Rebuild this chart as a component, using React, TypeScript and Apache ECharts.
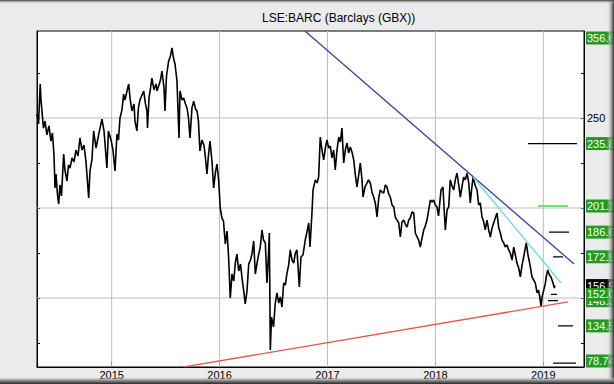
import React, { useEffect, useRef } from "react";
import * as echarts from "echarts";

const X_MIN = 2014.308;
const X_MAX = 2019.377;
const Y_MIN = 111.67;
const Y_MAX = 298.33;

const YEAR_TICKS = [2015, 2016, 2017, 2018, 2019];
const PRICE_TICKS = [125, 150, 175, 200, 225, 250, 275];
const PRICE_GRID = [150, 200, 250];
const RIGHT_AXIS_LABELS = [250];

const TITLE = "LSE:BARC (Barclays (GBX))";

// [decimal year, price in GBX]
const PRICES_2014: [number, number][] = [
  [2014.308, 252.2], [2014.322, 246.7], [2014.338, 268.9], [2014.345, 260.0], [2014.354, 253.9],
  [2014.368, 244.4], [2014.382, 248.3], [2014.4, 240.6], [2014.419, 245.6], [2014.437, 237.2],
  [2014.451, 241.7], [2014.465, 230.0], [2014.475, 211.1], [2014.484, 218.9], [2014.498, 207.2],
  [2014.509, 202.2], [2014.521, 212.8], [2014.535, 206.7], [2014.555, 230.0], [2014.567, 221.1],
  [2014.586, 215.0], [2014.6, 223.9], [2014.614, 222.2], [2014.632, 227.8], [2014.651, 225.6],
  [2014.669, 232.2], [2014.688, 228.9], [2014.706, 238.9], [2014.725, 232.2], [2014.743, 235.0],
  [2014.762, 225.6], [2014.787, 205.6], [2014.799, 220.6], [2014.817, 226.7], [2014.833, 242.8],
  [2014.855, 233.3], [2014.873, 238.9], [2014.892, 244.4], [2014.91, 249.4], [2014.929, 242.8],
  [2014.956, 222.2], [2014.97, 242.8], [2014.994, 237.8],
];

const PRICES_2015: [number, number][] = [
  [2015.012, 232.2], [2015.031, 220.6], [2015.049, 241.1], [2015.063, 237.8], [2015.077, 250.0],
  [2015.095, 254.4], [2015.111, 263.3], [2015.123, 260.0], [2015.142, 265.0], [2015.158, 268.9],
  [2015.17, 261.1], [2015.188, 253.9], [2015.207, 257.8], [2015.216, 248.3], [2015.234, 242.8],
  [2015.248, 255.6], [2015.262, 260.0], [2015.281, 262.8], [2015.297, 265.0], [2015.313, 257.8],
  [2015.327, 253.9], [2015.332, 244.4], [2015.346, 261.1], [2015.364, 268.3], [2015.373, 272.2],
  [2015.392, 265.6], [2015.411, 268.9], [2015.42, 265.0], [2015.438, 268.3], [2015.452, 271.1],
  [2015.466, 276.1], [2015.485, 266.7], [2015.494, 253.9], [2015.508, 273.3], [2015.528, 281.7],
  [2015.545, 284.4], [2015.559, 288.9], [2015.573, 283.3], [2015.587, 280.0], [2015.605, 270.6],
  [2015.624, 238.9], [2015.633, 265.0], [2015.652, 260.0], [2015.667, 261.1], [2015.684, 257.8],
  [2015.698, 255.6], [2015.712, 250.0], [2015.726, 238.9], [2015.744, 255.6], [2015.76, 259.4],
  [2015.777, 255.0], [2015.791, 253.9], [2015.804, 248.3], [2015.818, 231.7], [2015.837, 237.8],
  [2015.855, 235.0], [2015.869, 227.8], [2015.883, 218.9], [2015.897, 229.4], [2015.911, 237.2],
  [2015.93, 225.6], [2015.945, 211.1], [2015.962, 220.0], [2015.976, 224.4], [2015.992, 215.0],
];

const PRICES_2016: [number, number][] = [
  [2016.006, 200.0], [2016.022, 194.4], [2016.036, 192.8], [2016.053, 180.0], [2016.069, 187.2],
  [2016.084, 172.2], [2016.099, 150.0], [2016.115, 163.3], [2016.131, 159.4], [2016.147, 170.0],
  [2016.161, 174.4], [2016.177, 165.0], [2016.194, 168.9], [2016.208, 161.1], [2016.223, 154.4],
  [2016.238, 146.7], [2016.254, 153.9], [2016.27, 168.9], [2016.286, 171.1], [2016.3, 174.4],
  [2016.316, 181.7], [2016.331, 163.3], [2016.347, 169.4], [2016.361, 173.9], [2016.377, 178.3],
  [2016.393, 187.8], [2016.407, 182.2], [2016.424, 180.6], [2016.439, 158.3], [2016.453, 173.9],
  [2016.461, 186.1], [2016.47, 121.1], [2016.481, 139.4], [2016.5, 133.9], [2016.516, 147.2],
  [2016.532, 152.8], [2016.548, 147.2], [2016.563, 150.6], [2016.578, 145.0], [2016.594, 158.3],
  [2016.609, 157.2], [2016.625, 163.9], [2016.64, 168.3], [2016.655, 176.7], [2016.671, 171.1],
  [2016.687, 169.4], [2016.702, 175.0], [2016.717, 176.7], [2016.739, 156.1], [2016.754, 172.8],
  [2016.773, 173.9], [2016.794, 182.2], [2016.81, 186.7], [2016.826, 191.7], [2016.838, 178.3],
  [2016.856, 197.2], [2016.866, 210.0], [2016.887, 215.6], [2016.903, 213.9], [2016.918, 217.2],
  [2016.933, 239.4], [2016.949, 232.2], [2016.965, 226.7], [2016.98, 233.3], [2016.995, 237.8],
];

const PRICES_2017: [number, number][] = [
  [2017.011, 233.3], [2017.026, 234.4], [2017.042, 227.8], [2017.057, 232.2], [2017.072, 221.1],
  [2017.088, 232.2], [2017.104, 239.4], [2017.119, 236.7], [2017.134, 244.4], [2017.15, 225.0],
  [2017.165, 232.2], [2017.181, 236.1], [2017.196, 230.6], [2017.211, 233.9], [2017.227, 231.1],
  [2017.243, 226.7], [2017.258, 218.3], [2017.273, 211.7], [2017.289, 218.3], [2017.304, 225.0],
  [2017.32, 215.6], [2017.329, 206.1], [2017.348, 211.7], [2017.366, 213.9], [2017.38, 215.6],
  [2017.397, 213.9], [2017.412, 208.9], [2017.428, 206.1], [2017.443, 202.8], [2017.459, 195.0],
  [2017.475, 205.6], [2017.489, 210.0], [2017.505, 208.9], [2017.521, 208.3], [2017.536, 212.8],
  [2017.551, 211.7], [2017.567, 207.8], [2017.582, 206.1], [2017.598, 201.7], [2017.614, 200.6],
  [2017.628, 195.0], [2017.644, 193.3], [2017.66, 191.7], [2017.675, 183.9], [2017.69, 192.2],
  [2017.706, 193.3], [2017.721, 191.1], [2017.737, 189.4], [2017.753, 193.3], [2017.767, 194.4],
  [2017.783, 197.8], [2017.799, 197.2], [2017.814, 186.1], [2017.83, 183.9], [2017.845, 182.2],
  [2017.86, 178.3], [2017.876, 183.3], [2017.892, 187.8], [2017.906, 190.0], [2017.922, 193.3],
  [2017.938, 198.9], [2017.953, 204.4], [2017.969, 203.3], [2017.984, 204.4], [2017.999, 201.7],
];

const PRICES_2018: [number, number][] = [
  [2018.015, 200.6], [2018.029, 195.6], [2018.043, 204.4], [2018.052, 210.0], [2018.07, 211.7],
  [2018.084, 196.1], [2018.092, 187.8], [2018.108, 198.9], [2018.123, 200.6], [2018.138, 215.6],
  [2018.154, 212.2], [2018.17, 210.0], [2018.184, 215.6], [2018.2, 219.4], [2018.216, 212.8],
  [2018.231, 206.1], [2018.247, 212.2], [2018.262, 217.2], [2018.277, 215.6], [2018.293, 219.4],
  [2018.309, 213.9], [2018.323, 202.8], [2018.335, 210.0], [2018.349, 217.2], [2018.367, 212.8],
  [2018.386, 210.0], [2018.401, 201.7], [2018.416, 202.8], [2018.432, 195.0], [2018.448, 192.2],
  [2018.462, 187.8], [2018.478, 193.3], [2018.494, 187.8], [2018.509, 183.9], [2018.525, 188.9],
  [2018.54, 191.7], [2018.555, 194.4], [2018.571, 197.2], [2018.587, 188.9], [2018.602, 186.1],
  [2018.617, 182.2], [2018.633, 180.6], [2018.648, 178.3], [2018.664, 179.4], [2018.679, 176.7],
  [2018.694, 175.0], [2018.71, 171.1], [2018.726, 178.3], [2018.741, 173.9], [2018.756, 169.4],
  [2018.772, 166.7], [2018.787, 161.7], [2018.803, 168.3], [2018.818, 172.8], [2018.83, 176.7],
  [2018.842, 180.6], [2018.858, 173.9], [2018.877, 168.3], [2018.895, 161.7], [2018.911, 160.0],
  [2018.926, 158.3], [2018.942, 152.8], [2018.956, 154.4], [2018.967, 150.6], [2018.979, 145.0],
  [2018.988, 150.6],
];

const PRICES_2019: [number, number][] = [
  [2019.004, 154.4], [2019.019, 158.3], [2019.03, 162.8], [2019.041, 165.6], [2019.056, 162.8],
  [2019.071, 161.7], [2019.09, 158.3], [2019.102, 155.6], [2019.108, 156.9],
];

// trend lines [decimal year, price]
const BLUE_TREND: [number, number][] = [[2016.791, 298.3], [2019.285, 168.9]];
const CYAN_TREND: [number, number][] = [[2018.349, 217.2], [2019.164, 158.3]];
const RED_TREND: [number, number][] = [[2015.67, 111.7], [2019.229, 147.8]];

// target levels (short horizontal marks)
const LEVEL_VALUES = [235.8, 201.1, 186.6, 172.9, 152.0, 148.5, 134.5, 78.74];
const LEVEL_FROM = [2018.858, 2018.951, 2019.053, 2019.09, 2019.071, 2019.044, 2019.136, 2019.09];
const LEVEL_TO = [2019.312, 2019.229, 2019.238, 2019.182, 2019.127, 2019.136, 2019.275, 2019.303];
const LEVEL_COLORS = ["#000000", "#4fd04f", "#000000", "#000000", "#000000", "#000000", "#000000", "#000000"];

// price tags on the right panel
const TAG_VALUES = [356.6, 235.8, 201.1, 186.6, 172.9, 156.9, 148.5, 152.0, 134.5, 78.74];
const TAG_TEXTS = ["356.6", "235.8", "201.1", "186.6", "172.9", "156.9", "148.5", "152.0", "134.5", "78.74"];
const TAG_FILLS = ["#1f9b1f", "#1f9b1f", "#1f9b1f", "#1f9b1f", "#1f9b1f", "#000000", "#1f9b1f", "#1f9b1f", "#1f9b1f", "#1f9b1f"];

const FONT = "'Liberation Sans', Arial, sans-serif";
const W = 614;
const H = 384;
const GRID = { left: 37, right: 30, top: 31, bottom: 17 };

function lineSeries(data: [number, number][], color: string, width: number, z: number) {
  return {
    type: "line",
    data,
    showSymbol: false,
    symbol: "none",
    silent: true,
    z,
    lineStyle: { color, width },
    clip: true,
  };
}

export default function App() {
  const ref = useRef<HTMLDivElement>(null);

  useEffect(() => {
    document.body.style.margin = "0";
    if (!ref.current) return;
    const chart = echarts.init(ref.current, null, { renderer: "svg", width: W, height: H });

    const series: any[] = [];
    YEAR_TICKS.forEach((yr) =>
      series.push(lineSeries([[yr, Y_MIN], [yr, Y_MAX]], "#bdbdbd", 1, 1))
    );
    PRICE_GRID.forEach((v) =>
      series.push(lineSeries([[X_MIN, v], [X_MAX, v]], "#bdbdbd", 1, 1))
    );
    const levelFloor = Y_MIN + 2.2;
    LEVEL_VALUES.forEach((v, i) => {
      const lv = Math.max(v, levelFloor);
      series.push(lineSeries([[LEVEL_FROM[i], lv], [LEVEL_TO[i], lv]], LEVEL_COLORS[i], 1.3, 2));
    });
    const prices = [...PRICES_2014, ...PRICES_2015, ...PRICES_2016, ...PRICES_2017, ...PRICES_2018, ...PRICES_2019];
    series.push(lineSeries(prices, "#000000", 1.6, 3));
    series.push(lineSeries(RED_TREND, "#e0594b", 1.3, 4));
    series.push(lineSeries(BLUE_TREND, "#3d3da6", 1.3, 4));
    series.push(lineSeries(CYAN_TREND, "#72dede", 1.5, 4));

    chart.setOption({
      animation: false,
      backgroundColor: "#ebebeb",
      textStyle: { fontFamily: FONT },
      title: {
        text: TITLE,
        left: 257,
        top: 7,
        textStyle: { fontSize: 12, fontWeight: "normal", color: "#000", fontFamily: FONT },
      },
      grid: {
        ...GRID,
        show: true,
        backgroundColor: "#ffffff",
        borderColor: "#000000",
        borderWidth: 1,
      },
      xAxis: {
        type: "value",
        min: X_MIN,
        max: X_MAX,
        axisLine: { show: true, lineStyle: { color: "#000" } },
        axisTick: { show: true, inside: true, length: 5, customValues: YEAR_TICKS, lineStyle: { color: "#000" } },
        axisLabel: {
          customValues: YEAR_TICKS,
          formatter: (v: number) => String(Math.round(v)),
          fontSize: 11,
          color: "#000",
          margin: 2,
          fontFamily: FONT,
        },
        splitLine: { show: false },
      },
      yAxis: [
        {
          type: "value",
          position: "left",
          min: Y_MIN,
          max: Y_MAX,
          axisLine: { show: true, lineStyle: { color: "#000" } },
          axisTick: { show: true, inside: true, length: 3, customValues: PRICE_TICKS, lineStyle: { color: "#000" } },
          axisLabel: { show: false },
          splitLine: { show: false },
        },
        {
          type: "value",
          position: "right",
          min: Y_MIN,
          max: Y_MAX,
          axisLine: { show: true, lineStyle: { color: "#000" } },
          axisTick: { show: true, inside: true, length: 3, customValues: PRICE_TICKS, lineStyle: { color: "#000" } },
          axisLabel: {
            customValues: RIGHT_AXIS_LABELS,
            formatter: (v: number) => String(Math.round(v)),
            fontSize: 11,
            color: "#000",
            margin: 3,
            fontFamily: FONT,
          },
          splitLine: { show: false },
        },
      ],
      series,
    });

    const plotTop = GRID.top;
    const plotBottom = H - GRID.bottom;
    const plotRight = W - GRID.right;
    const elements: any[] = [];
    TAG_VALUES.forEach((v, i) => {
      let y = chart.convertToPixel({ yAxisIndex: 0 }, v) as number;
      y = Math.min(Math.max(y, plotTop + 7), plotBottom - 6);
      elements.push({
        type: "rect",
        z: 100 + i * 2,
        shape: { x: plotRight + 2, y: y - 6.5, width: W - plotRight - 2, height: 13 },
        style: { fill: TAG_FILLS[i] },
        silent: true,
      });
      elements.push({
        type: "text",
        z: 101 + i * 2,
        x: plotRight + 3,
        y: y,
        style: {
          text: TAG_TEXTS[i],
          fill: "#ffffff",
          font: `11px ${FONT}`,
          verticalAlign: "middle",
          align: "left",
        },
        silent: true,
      });
    });
    // window bevel: right edge, bottom edge, top edge
    elements.push({
      type: "rect",
      z: 200,
      shape: { x: W - 7, y: 0, width: 7, height: H },
      style: {
        fill: {
          type: "linear", x: 0, y: 0, x2: 1, y2: 0,
          colorStops: [
            { offset: 0, color: "rgba(215,215,215,0)" },
            { offset: 0.35, color: "rgba(190,190,190,0.55)" },
            { offset: 1, color: "#2e2e2e" },
          ],
        },
      },
      silent: true,
    });
    elements.push({
      type: "rect",
      z: 201,
      shape: { x: 0, y: H - 7, width: W, height: 7 },
      style: {
        fill: {
          type: "linear", x: 0, y: 0, x2: 0, y2: 1,
          colorStops: [
            { offset: 0, color: "rgba(215,215,215,0)" },
            { offset: 0.45, color: "rgba(140,140,140,0.9)" },
            { offset: 1, color: "#262626" },
          ],
        },
      },
      silent: true,
    });
    elements.push({
      type: "rect",
      z: 202,
      shape: { x: 0, y: 0, width: W, height: 4 },
      style: {
        fill: {
          type: "linear", x: 0, y: 0, x2: 0, y2: 1,
          colorStops: [
            { offset: 0, color: "#3a3a3a" },
            { offset: 1, color: "rgba(235,235,235,0)" },
          ],
        },
      },
      silent: true,
    });
    chart.setOption({ graphic: { elements } });

    return () => chart.dispose();
  }, []);

  return (
    <div
      ref={ref}
      style={{ width: W, height: H, position: "fixed", left: 0, top: 0 }}
    />
  );
}
